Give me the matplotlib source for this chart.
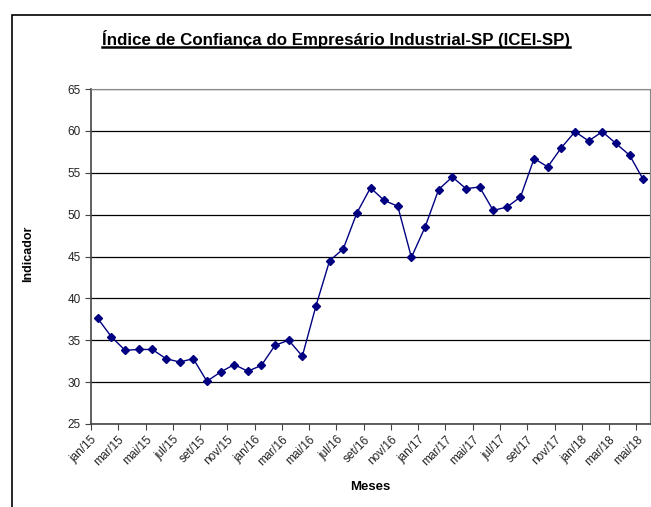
"""ICEI-SP line chart (Excel style) redrawn in matplotlib."""
import matplotlib
matplotlib.use("Agg")
import matplotlib.pyplot as plt
from matplotlib.patches import Rectangle
from matplotlib.lines import Line2D

plt.rcParams["font.family"] = ["Liberation Sans", "DejaVu Sans"]

months = ["jan", "fev", "mar", "abr", "mai", "jun", "jul", "ago", "set", "out", "nov", "dez"]
categories = [f"{m}/{y}" for y in ("15", "16", "17") for m in months] + \
             [f"{m}/18" for m in months[:5]]

icei = [37.6, 35.4, 33.8, 33.9, 33.9, 32.8, 32.4, 32.8, 30.1, 31.2,
        32.1, 31.3, 32.0, 34.4, 35.0, 33.1, 39.1, 44.5, 45.9, 50.2,
        53.2, 51.7, 51.0, 44.9, 48.5, 53.0, 54.5, 53.1, 53.3, 50.5,
        50.9, 52.1, 56.7, 55.7, 58.0, 59.9, 58.8, 59.9, 58.5, 57.1,
        54.2]

title = "Índice de Confiança do Empresário Industrial-SP (ICEI-SP)"

W, H = 651, 507
fig = plt.figure(figsize=(W / 100, H / 100), dpi=100)
ax = fig.add_axes([91 / W, 1 - 424 / H, (650 - 91) / W, (424 - 89) / H])

x = list(range(len(icei)))
ax.plot(x, icei, color="#000080", lw=1.0, marker="D", ms=4.5,
        markerfacecolor="#000080", markeredgecolor="#000080", zorder=3)

ax.set_xlim(-0.5, len(icei) - 0.5)
ax.set_ylim(25, 65)
ax.set_yticks(range(25, 66, 5))
ax.yaxis.grid(True, color="black", lw=0.9)
ax.set_axisbelow(True)

# ticks sit between categories (Excel style); every second label, ending at its tick
ax.set_xticks([i - 0.5 for i in x[::2]], categories[::2], rotation=45, ha="right",
              rotation_mode="anchor", fontsize=8.5, color="#222222")
ax.tick_params(axis="x", length=4, direction="out", color="#444444", pad=3)
ax.tick_params(axis="y", length=4, direction="out", color="#444444",
               labelsize=8.5, labelcolor="#222222")

for s in ("top", "right"):
    ax.spines[s].set_color("#888888")
for s in ("left", "bottom"):
    ax.spines[s].set_color("#444444")
    ax.spines[s].set_linewidth(1.2)

ax.set_ylabel("Indicador", fontsize=9, fontweight="bold")
ax.yaxis.set_label_coords(34 / W, 0.5, transform=fig.transFigure)
fig.text(370 / W, 1 - 487 / H, "Meses", fontsize=9.5, fontweight="bold",
         ha="center", va="center")

# title with underline
t = fig.text(336 / W, 1 - 39 / H, title, fontsize=12.2, fontweight="bold",
             ha="center", va="center")
fig.canvas.draw()
bb = t.get_window_extent().transformed(fig.transFigure.inverted())
fig.add_artist(Line2D([bb.x0, bb.x1], [bb.y0 + 0.002, bb.y0 + 0.002],
                      transform=fig.transFigure, color="black", lw=1.8))

# outer chart frame
fig.add_artist(Rectangle((12 / W, -0.1), 1.2, 1.1 - 15 / H, transform=fig.transFigure,
                         fill=False, edgecolor="black", lw=1.2, clip_on=False))

fig.savefig("out.png", dpi=100)
